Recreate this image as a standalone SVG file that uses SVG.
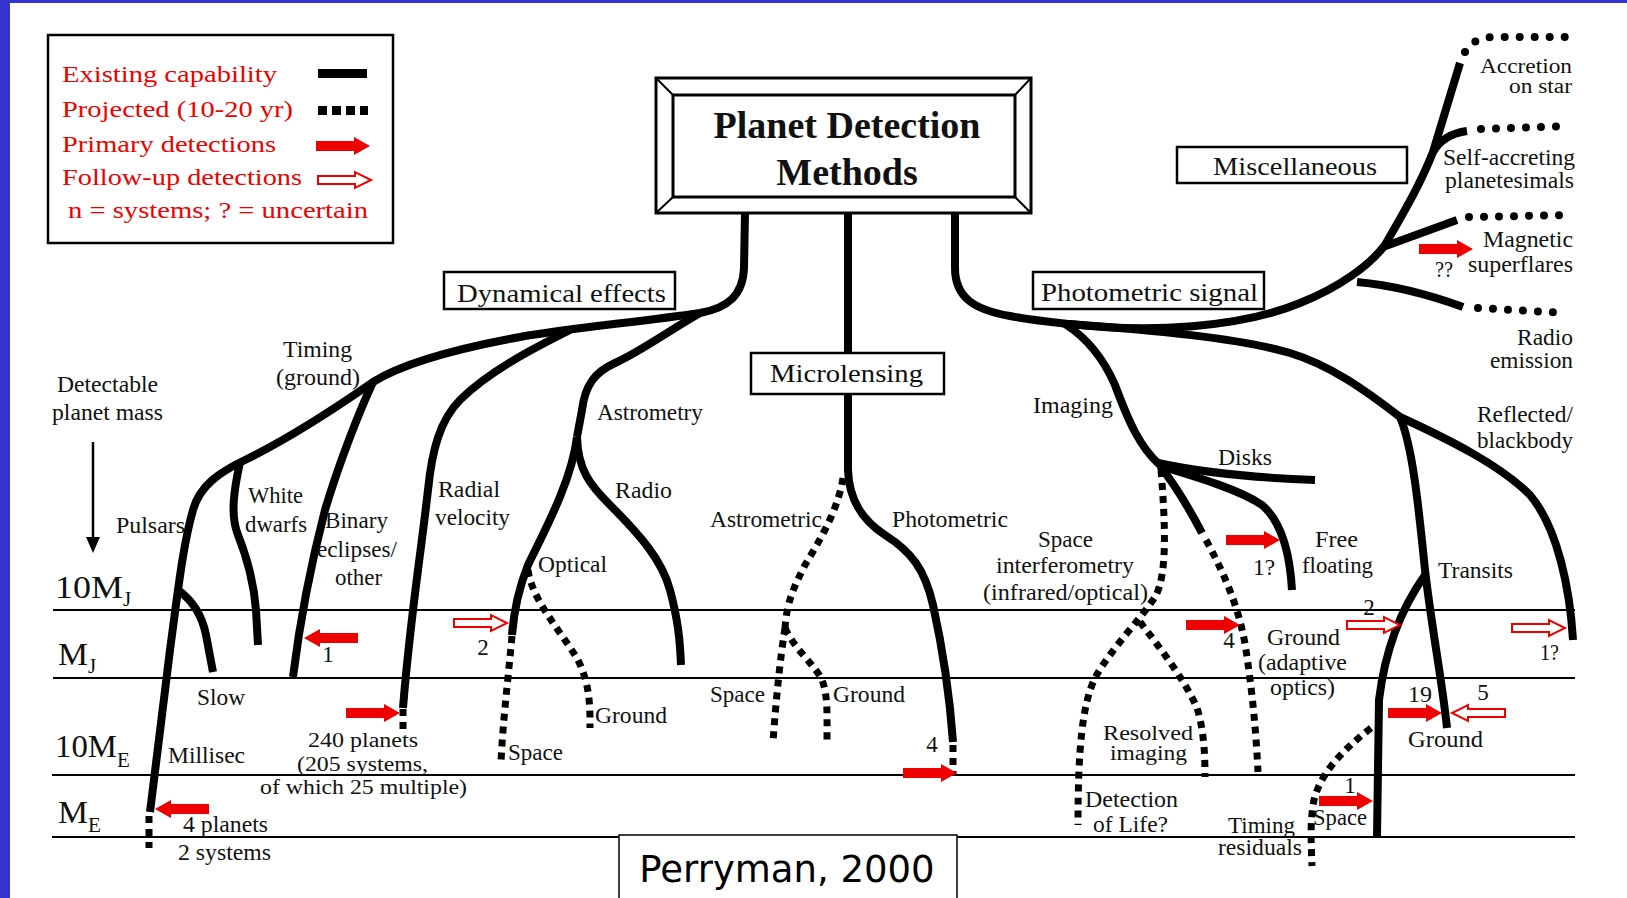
<svg xmlns="http://www.w3.org/2000/svg" xmlns:xlink="http://www.w3.org/1999/xlink" width="1627" height="898" viewBox="0 0 1627 898">
<style>
.t{font-family:"Liberation Serif","Times New Roman",serif;font-size:23px;fill:#111}
.sm{font-size:20px}
.lg{fill:#e00;font-size:24px}
.bx{font-size:25px}
.ax{font-size:32px}
.sb{font-size:21px}
.ttl{font-family:"Liberation Serif","Times New Roman",serif;font-size:38px;font-weight:bold;fill:#111;text-anchor:middle}
.br{fill:none;stroke:#000;stroke-width:8;stroke-linejoin:round}
.dt{fill:none;stroke:#000;stroke-width:7;stroke-dasharray:7 6}
.rd{fill:none;stroke:#000;stroke-width:8;stroke-dasharray:0 15;stroke-linecap:round}
.hl{stroke:#000;stroke-width:2}
.box{fill:#fff;stroke:#000;stroke-width:2.5}
.fa{fill:#ee0000}
.ha{fill:#fff;stroke:#ee0000;stroke-width:2}
</style>
<defs>
<path id="fa" class="fa" d="M-54,-5 L-16,-5 L-16,-9 L0,0 L-16,9 L-16,5 L-54,5 Z"/>
<path id="ha" class="ha" d="M-53,-4 L-16,-4 L-16,-8 L0,0 L-16,8 L-16,4 L-53,4 Z"/>
</defs>
<rect x="0" y="0" width="1627" height="898" fill="#fff"/>
<rect x="0" y="0" width="10" height="898" fill="#3434cc"/>
<rect x="0" y="0" width="1627" height="3" fill="#3434cc"/>

<g id="scale">
<line class="hl" x1="53" y1="610" x2="1575" y2="610"/>
<line class="hl" x1="53" y1="678" x2="1575" y2="678"/>
<line class="hl" x1="52" y1="775" x2="1575" y2="775"/>
<line class="hl" x1="52" y1="837" x2="1575" y2="837"/>
<text class="t ax" x="55" y="598" textLength="68" lengthAdjust="spacingAndGlyphs">10M</text><text class="t sb" x="123" y="606">J</text>
<text class="t ax" x="58" y="665" textLength="30" lengthAdjust="spacingAndGlyphs">M</text><text class="t sb" x="88" y="673">J</text>
<text class="t ax" x="55" y="757" textLength="62" lengthAdjust="spacingAndGlyphs">10M</text><text class="t sb" x="117" y="767">E</text>
<text class="t ax" x="58" y="823" textLength="30" lengthAdjust="spacingAndGlyphs">M</text><text class="t sb" x="88" y="832">E</text>
<text class="t" x="57" y="392" textLength="101" lengthAdjust="spacingAndGlyphs">Detectable</text>
<text class="t" x="52" y="420" textLength="111" lengthAdjust="spacingAndGlyphs">planet mass</text>
<line x1="93" y1="442" x2="93" y2="540" stroke="#000" stroke-width="2.5"/>
<polygon points="86,537 100,537 93,553" fill="#000"/>
</g>

<g id="legend">
<rect x="48" y="35" width="345" height="208" fill="#fff" stroke="#000" stroke-width="2.5"/>
<text class="t lg" x="62" y="82" textLength="215" lengthAdjust="spacingAndGlyphs">Existing capability</text>
<text class="t lg" x="62" y="117" textLength="231" lengthAdjust="spacingAndGlyphs">Projected (10-20 yr)</text>
<text class="t lg" x="62" y="152" textLength="214" lengthAdjust="spacingAndGlyphs">Primary detections</text>
<text class="t lg" x="62" y="185" textLength="240" lengthAdjust="spacingAndGlyphs">Follow-up detections</text>
<text class="t lg" x="68" y="218" textLength="300" lengthAdjust="spacingAndGlyphs">n = systems; ? = uncertain</text>
<rect x="318" y="69" width="49" height="9" fill="#000"/>
<line x1="318" y1="110.5" x2="368" y2="110.5" stroke="#000" stroke-width="9" stroke-dasharray="9 5"/>
<use xlink:href="#fa" href="#fa" transform="translate(370,146)"/>
<use xlink:href="#ha" href="#ha" transform="translate(371,180)"/>
</g>

<g id="connectors">
<path class="br" d="M745,213 L744,268 C743,295 728,308 700,313 C640,322 570,328 520,337 C460,348 405,362 373,382 C340,405 290,438 245,460 C220,472 200,485 193,510 C183,545 178,590 170,650 L150,812"/>
<path class="dt" d="M149,816 L149,848"/>
<path class="br" d="M240,462 C234,490 230,515 238,535 C248,560 254,585 256,610 L258,645"/>
<path class="br" d="M178,590 C192,600 202,615 206,635 L213,672"/>
<path class="br" d="M373,382 C360,410 340,460 325,510 C312,560 300,620 293,677"/>
<path class="br" d="M570,330 C540,345 490,370 460,400 C440,420 432,450 428,490 C420,560 410,620 403,708"/>
<path class="dt" d="M403,709 L403,731"/>
<path class="br" d="M700,313 C670,330 640,352 615,363 C595,372 585,385 582,410 L577,437"/>
<path class="br" d="M577,437 C572,480 545,530 528,565 C518,590 514,610 512,635"/>
<path class="dt" d="M512,636 C508,680 503,720 501,762"/>
<path class="dt" d="M528,570 C532,600 560,630 578,660 C590,685 590,705 590,728"/>
<path class="br" d="M577,437 C578,470 590,485 610,505 C640,535 662,560 670,590 C678,620 680,640 681,665"/>
<path class="br" d="M848,213 L848,353"/>
<path class="br" d="M848,394 L848,470 C849,500 862,520 885,535 C912,552 925,570 933,605 C943,650 950,700 953,742"/>
<path class="dt" d="M953,745 L953,775"/>
<path class="dt" d="M843,478 C838,510 820,540 805,565 C795,585 787,600 785,628"/>
<path class="dt" d="M785,628 C780,660 776,700 773,742"/>
<path class="dt" d="M785,628 C795,650 815,665 822,680 C828,695 827,715 827,740"/>
<path class="br" d="M955,213 L955,268 C955,298 975,310 1010,316 C1030,320 1050,322 1069,324"/>
<path class="br" d="M1069,324 C1150,333 1240,328 1300,303 C1340,287 1370,265 1385,245 C1405,210 1420,185 1433,152 L1460,63"/>
<path class="rd" d="M1465,52 C1470,42 1480,38 1492,37 L1567,37"/>
<path class="br" d="M1433,152 C1440,140 1452,133 1467,131"/>
<path class="rd" d="M1481,129 L1568,126"/>
<path class="br" d="M1383,247 L1457,220"/>
<path class="rd" d="M1469,217 L1573,215"/>
<path class="br" d="M1357,282 C1390,285 1430,295 1463,307"/>
<path class="rd" d="M1478,308 L1566,313"/>
<path class="br" d="M1069,324 C1150,330 1240,338 1290,353 C1330,365 1365,390 1400,417 C1450,440 1500,465 1530,495 C1558,528 1570,590 1573,640"/>
<path class="br" d="M1400,417 C1412,445 1418,500 1425,570 C1432,630 1442,680 1447,728"/>
<path class="br" d="M1425,575 C1400,610 1385,650 1379,700 L1377,837"/>
<path class="dt" d="M1371,728 C1340,752 1320,775 1314,800 C1310,820 1311,840 1312,866"/>
<path class="br" d="M1065,324 C1090,340 1105,362 1115,385 C1128,420 1140,448 1160,465"/>
<path class="br" d="M1158,463 C1200,472 1260,478 1315,480"/>
<path class="br" d="M1160,466 C1200,478 1240,490 1262,505 C1282,522 1290,555 1292,590"/>
<path class="br" d="M1160,466 C1175,485 1190,510 1202,533"/>
<path class="dt" d="M1206,540 C1225,575 1240,610 1246,650 C1252,690 1256,730 1258,772"/>
<path class="dt" d="M1161,470 C1165,520 1168,575 1155,597 C1140,620 1110,650 1095,678 C1082,705 1078,750 1078,825"/>
<path class="dt" d="M1140,622 C1160,648 1185,680 1197,708 C1204,730 1205,755 1205,777"/>
</g>

<g id="arrows">
<use href="#fa" xlink:href="#fa" transform="translate(304,638) scale(-1,1)"/>
<use href="#fa" xlink:href="#fa" transform="translate(400,713)"/>
<use href="#fa" xlink:href="#fa" transform="translate(155,809) scale(-1,1)"/>
<use href="#ha" xlink:href="#ha" transform="translate(507,623)"/>
<use href="#fa" xlink:href="#fa" transform="translate(957,773)"/>
<use href="#fa" xlink:href="#fa" transform="translate(1280,540)"/>
<use href="#fa" xlink:href="#fa" transform="translate(1240,625)"/>
<use href="#ha" xlink:href="#ha" transform="translate(1400,625)"/>
<use href="#ha" xlink:href="#ha" transform="translate(1565,628)"/>
<use href="#fa" xlink:href="#fa" transform="translate(1442,713)"/>
<use href="#ha" xlink:href="#ha" transform="translate(1452,713) scale(-1,1)"/>
<use href="#fa" xlink:href="#fa" transform="translate(1373,801)"/>
<use href="#fa" xlink:href="#fa" transform="translate(1473,249)"/>
</g>

<g id="title">
<rect x="656" y="78" width="375" height="135" fill="#fff" stroke="#000" stroke-width="3"/>
<rect x="673" y="95" width="342" height="102" fill="#fff" stroke="#000" stroke-width="3"/>
<path d="M656,78 L673,95 M1031,78 L1015,95 M656,213 L673,197 M1031,213 L1015,197" stroke="#000" stroke-width="2"/>
<text class="ttl" x="847" y="138">Planet Detection</text>
<text class="ttl" x="847" y="185">Methods</text>
</g>

<g id="dynamical">
<rect class="box" x="444" y="272" width="231" height="37"/>
<text class="t bx" x="457" y="302" textLength="209" lengthAdjust="spacingAndGlyphs">Dynamical effects</text>
</g>
<g id="microlensing">
<rect class="box" x="751" y="353" width="193" height="41"/>
<text class="t bx" x="770" y="382" textLength="153" lengthAdjust="spacingAndGlyphs">Microlensing</text>
</g>
<g id="photometric">
<rect class="box" x="1033" y="272" width="231" height="37"/>
<text class="t bx" x="1041" y="301" textLength="217" lengthAdjust="spacingAndGlyphs">Photometric signal</text>
</g>
<g id="misc">
<rect class="box" x="1177" y="147" width="230" height="36"/>
<text class="t bx" x="1213" y="175" textLength="164" lengthAdjust="spacingAndGlyphs">Miscellaneous</text>
</g>

<g id="timing"><text class="t" x="283" y="357" textLength="69" lengthAdjust="spacingAndGlyphs">Timing</text><text class="t" x="276" y="385" textLength="84" lengthAdjust="spacingAndGlyphs">(ground)</text></g>
<g id="pulsars"><text class="t" x="116" y="533" textLength="69" lengthAdjust="spacingAndGlyphs">Pulsars</text>
<text class="t" x="197" y="705" textLength="48" lengthAdjust="spacingAndGlyphs">Slow</text>
<text class="t" x="168" y="763" textLength="77" lengthAdjust="spacingAndGlyphs">Millisec</text>
<text class="t" x="183" y="832" textLength="85" lengthAdjust="spacingAndGlyphs">4 planets</text>
<text class="t" x="178" y="860" textLength="93" lengthAdjust="spacingAndGlyphs">2 systems</text></g>
<g id="whitedwarfs"><text class="t" x="248" y="503" textLength="55" lengthAdjust="spacingAndGlyphs">White</text><text class="t" x="245" y="532" textLength="62" lengthAdjust="spacingAndGlyphs">dwarfs</text></g>
<g id="binary"><text class="t" x="325" y="528" textLength="63" lengthAdjust="spacingAndGlyphs">Binary</text><text class="t" x="317" y="557" textLength="80" lengthAdjust="spacingAndGlyphs">eclipses/</text><text class="t" x="335" y="585" textLength="47" lengthAdjust="spacingAndGlyphs">other</text>
<text class="t" x="328" y="662" text-anchor="middle">1</text></g>
<g id="radial"><text class="t" x="438" y="497" textLength="62" lengthAdjust="spacingAndGlyphs">Radial</text><text class="t" x="435" y="525" textLength="75" lengthAdjust="spacingAndGlyphs">velocity</text>
<text class="t sm" x="308" y="747" textLength="110" lengthAdjust="spacingAndGlyphs">240 planets</text>
<text class="t sm" x="297" y="771" textLength="131" lengthAdjust="spacingAndGlyphs">(205 systems,</text>
<text class="t sm" x="260" y="794" textLength="207" lengthAdjust="spacingAndGlyphs">of which 25 multiple)</text></g>
<g id="astrometry"><text class="t" x="597" y="420" textLength="106" lengthAdjust="spacingAndGlyphs">Astrometry</text>
<text class="t" x="615" y="498" textLength="57" lengthAdjust="spacingAndGlyphs">Radio</text>
<text class="t" x="538" y="572" textLength="69" lengthAdjust="spacingAndGlyphs">Optical</text>
<text class="t" x="483" y="655" text-anchor="middle">2</text>
<text class="t" x="595" y="723" textLength="72" lengthAdjust="spacingAndGlyphs">Ground</text>
<text class="t" x="508" y="760" textLength="55" lengthAdjust="spacingAndGlyphs">Space</text></g>
<g id="ml-leaves"><text class="t" x="710" y="527" textLength="112" lengthAdjust="spacingAndGlyphs">Astrometric</text>
<text class="t" x="892" y="527" textLength="116" lengthAdjust="spacingAndGlyphs">Photometric</text>
<text class="t" x="710" y="702" textLength="55" lengthAdjust="spacingAndGlyphs">Space</text>
<text class="t" x="833" y="702" textLength="72" lengthAdjust="spacingAndGlyphs">Ground</text>
<text class="t" x="932" y="752" text-anchor="middle">4</text></g>
<g id="imaging"><text class="t" x="1033" y="413" textLength="80" lengthAdjust="spacingAndGlyphs">Imaging</text>
<text class="t" x="1218" y="465" textLength="54" lengthAdjust="spacingAndGlyphs">Disks</text>
<text class="t" x="1038" y="547" textLength="55" lengthAdjust="spacingAndGlyphs">Space</text>
<text class="t" x="996" y="573" textLength="138" lengthAdjust="spacingAndGlyphs">interferometry</text>
<text class="t" x="983" y="600" textLength="165" lengthAdjust="spacingAndGlyphs">(infrared/optical)</text>
<text class="t" x="1315" y="547" textLength="43" lengthAdjust="spacingAndGlyphs">Free</text>
<text class="t" x="1302" y="573" textLength="71" lengthAdjust="spacingAndGlyphs">floating</text>
<text class="t" x="1253" y="575" textLength="22" lengthAdjust="spacingAndGlyphs">1?</text>
<text class="t" x="1229" y="648" text-anchor="middle">4</text>
<text class="t" x="1267" y="645" textLength="73" lengthAdjust="spacingAndGlyphs">Ground</text>
<text class="t" x="1258" y="670" textLength="89" lengthAdjust="spacingAndGlyphs">(adaptive</text>
<text class="t" x="1270" y="695" textLength="65" lengthAdjust="spacingAndGlyphs">optics)</text>
<text class="t sm" x="1103" y="740" textLength="90" lengthAdjust="spacingAndGlyphs">Resolved</text>
<text class="t sm" x="1110" y="760" textLength="77" lengthAdjust="spacingAndGlyphs">imaging</text>
<text class="t" x="1085" y="807" textLength="93" lengthAdjust="spacingAndGlyphs">Detection</text>
<text class="t" x="1093" y="832" textLength="75" lengthAdjust="spacingAndGlyphs">of Life?</text></g>
<g id="transits"><text class="t" x="1438" y="578" textLength="75" lengthAdjust="spacingAndGlyphs">Transits</text>
<text class="t" x="1369" y="615" text-anchor="middle">2</text>
<text class="t" x="1408" y="702" textLength="24" lengthAdjust="spacingAndGlyphs">19</text>
<text class="t" x="1483" y="700" text-anchor="middle">5</text>
<text class="t" x="1408" y="747" textLength="75" lengthAdjust="spacingAndGlyphs">Ground</text>
<text class="t" x="1350" y="793" text-anchor="middle">1</text>
<text class="t" x="1313" y="825" textLength="54" lengthAdjust="spacingAndGlyphs">Space</text>
<text class="t" x="1228" y="833" textLength="67" lengthAdjust="spacingAndGlyphs">Timing</text>
<text class="t" x="1218" y="855" textLength="84" lengthAdjust="spacingAndGlyphs">residuals</text></g>
<g id="reflected"><text class="t" x="1477" y="422" textLength="96" lengthAdjust="spacingAndGlyphs">Reflected/</text>
<text class="t" x="1477" y="448" textLength="96" lengthAdjust="spacingAndGlyphs">blackbody</text>
<text class="t" x="1540" y="660" textLength="19" lengthAdjust="spacingAndGlyphs">1?</text></g>
<g id="misc-leaves"><text class="t sm" x="1480" y="73" textLength="92" lengthAdjust="spacingAndGlyphs">Accretion</text>
<text class="t sm" x="1509" y="93" textLength="63" lengthAdjust="spacingAndGlyphs">on star</text>
<text class="t" x="1443" y="165" textLength="132" lengthAdjust="spacingAndGlyphs">Self-accreting</text>
<text class="t" x="1445" y="188" textLength="129" lengthAdjust="spacingAndGlyphs">planetesimals</text>
<text class="t" x="1483" y="247" textLength="90" lengthAdjust="spacingAndGlyphs">Magnetic</text>
<text class="t" x="1468" y="272" textLength="105" lengthAdjust="spacingAndGlyphs">superflares</text>
<text class="t" x="1435" y="277" textLength="18" lengthAdjust="spacingAndGlyphs">??</text>
<text class="t" x="1517" y="345" textLength="56" lengthAdjust="spacingAndGlyphs">Radio</text>
<text class="t" x="1490" y="368" textLength="83" lengthAdjust="spacingAndGlyphs">emission</text></g>

<g id="credit">
<rect x="619" y="835" width="338" height="70" fill="#fff" stroke="#000" stroke-width="1.5"/>
<text x="787" y="882" text-anchor="middle" font-family="DejaVu Sans, sans-serif" font-size="37" fill="#000">Perryman, 2000</text>
</g>
</svg>
